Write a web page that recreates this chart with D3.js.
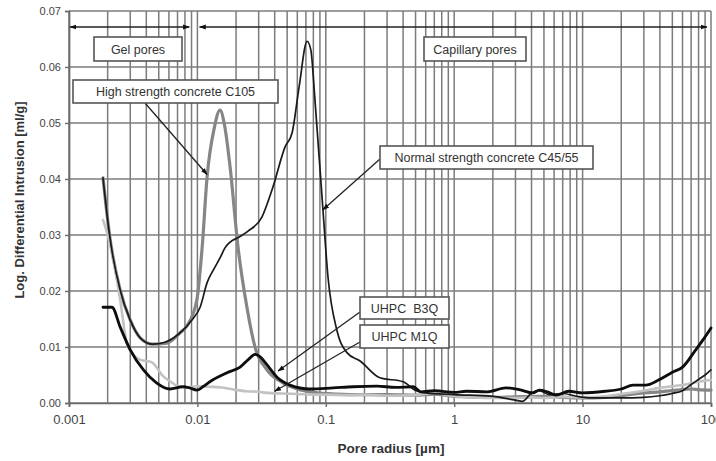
<!DOCTYPE html>
<html>
<head>
<meta charset="utf-8">
<script src="https://cdn.jsdelivr.net/npm/d3@7/dist/d3.min.js"></script>
<style>
  html, body { margin: 0; padding: 0; background: #fff; }
  svg { display: block; font-family: "Liberation Sans", Arial, sans-serif; }
</style>
</head>
<body>
<svg id="chart" width="716" height="461"></svg>
<script>
// Pore size distributions (log. differential intrusion, ml/g) vs pore radius (µm)
const radiusNSC = [0.00184, 0.00208, 0.0025, 0.003, 0.0036, 0.0045, 0.0055, 0.0073, 0.0092, 0.0105, 0.0119, 0.0135, 0.015, 0.0164, 0.0179, 0.021, 0.0248, 0.0318, 0.0388, 0.0481, 0.0546, 0.062, 0.0715, 0.0765, 0.0824, 0.095, 0.104, 0.122, 0.146, 0.185, 0.264, 0.40, 0.495, 0.6, 1.0, 2.0, 3.0, 3.4, 4.0, 4.6, 5.5, 7, 9, 12, 20, 30, 40, 50, 60, 70, 80, 90, 100];
const nsc = [0.0402, 0.0296, 0.0202, 0.0148, 0.0116, 0.0105, 0.0108, 0.0125, 0.015, 0.0171, 0.0215, 0.024, 0.0259, 0.0277, 0.0287, 0.0296, 0.0307, 0.0332, 0.0386, 0.0457, 0.0482, 0.0565, 0.0646, 0.063, 0.054, 0.0345, 0.0225, 0.013, 0.009, 0.0075, 0.0045, 0.0038, 0.0023, 0.0018, 0.0015, 0.0012, 0.0005, 0.0003, 0.0018, 0.0022, 0.0015, 0.0017, 0.0012, 0.0009, 0.0009, 0.001, 0.0013, 0.0017, 0.0022, 0.0033, 0.0042, 0.005, 0.0059];

const radiusHSC = [0.00184, 0.00208, 0.0025, 0.003, 0.0036, 0.0045, 0.0058, 0.0073, 0.0083, 0.0099, 0.0109, 0.0119, 0.0135, 0.015, 0.0163, 0.018, 0.0207, 0.0243, 0.0281, 0.0349, 0.0464, 0.06, 0.08, 0.12, 0.2, 0.3, 0.5, 0.7, 1, 2, 3, 5, 7, 10, 15, 20, 30, 40, 50, 60, 70, 80, 100];
const hsc = [0.0402, 0.0296, 0.0202, 0.0148, 0.0116, 0.0105, 0.0107, 0.0125, 0.0138, 0.0184, 0.0279, 0.0404, 0.049, 0.0523, 0.0495, 0.042, 0.0279, 0.0171, 0.01, 0.0059, 0.0036, 0.0025, 0.0019, 0.0016, 0.0015, 0.0015, 0.0014, 0.0016, 0.0012, 0.001, 0.0011, 0.0012, 0.001, 0.0009, 0.001, 0.0013, 0.0018, 0.002, 0.0022, 0.0024, 0.0025, 0.0024, 0.0023];

const radiusM1Q = [0.00184, 0.002, 0.0022, 0.0025, 0.00283, 0.0032, 0.0036, 0.0044, 0.0054, 0.0062, 0.0069, 0.008, 0.0099, 0.012, 0.015, 0.019, 0.024, 0.03, 0.035, 0.045, 0.06, 0.08, 0.1, 0.15, 0.2, 0.3, 0.5, 0.7, 1, 1.5, 2, 3, 4, 5, 7, 10, 15, 20, 30, 40, 50, 60, 70, 80, 90, 100];
const m1q = [0.0327, 0.030, 0.026, 0.0185, 0.0105, 0.0085, 0.0077, 0.0073, 0.0048, 0.0038, 0.0031, 0.0028, 0.003, 0.0029, 0.0028, 0.0024, 0.0021, 0.002, 0.0018, 0.0017, 0.0016, 0.0015, 0.0015, 0.0014, 0.0015, 0.0013, 0.0014, 0.0018, 0.0012, 0.001, 0.0009, 0.0009, 0.001, 0.0009, 0.0011, 0.001, 0.0012, 0.0016, 0.0022, 0.0027, 0.003, 0.0032, 0.0035, 0.0038, 0.004, 0.0041];

const radiusB3Q = [0.00184, 0.00216, 0.0025, 0.003, 0.0038, 0.0048, 0.0061, 0.0077, 0.0087, 0.0099, 0.0112, 0.0125, 0.017, 0.0215, 0.025, 0.0281, 0.031, 0.0349, 0.0417, 0.0526, 0.0753, 0.114, 0.163, 0.25, 0.35, 0.48, 0.55, 0.7, 1.0, 1.24, 1.8, 2.53, 3.2, 4.1, 4.6, 5.3, 6.2, 7.8, 10, 15, 20, 24.7, 31, 39, 50, 60, 76, 88, 100];
const b3q = [0.0171, 0.0171, 0.0136, 0.0095, 0.0059, 0.0036, 0.0025, 0.0029, 0.0027, 0.0023, 0.003, 0.0038, 0.0054, 0.0064, 0.0078, 0.0087, 0.0082, 0.0068, 0.0046, 0.0032, 0.0025, 0.0027, 0.0029, 0.003, 0.0028, 0.0029, 0.002, 0.0022, 0.0019, 0.0021, 0.002, 0.0027, 0.0024, 0.0018, 0.0023, 0.002, 0.0014, 0.0021, 0.0018, 0.0021, 0.0025, 0.0032, 0.0032, 0.0041, 0.0055, 0.0064, 0.0095, 0.0115, 0.0134];

const xTicks = [0.001, 0.01, 0.1, 1, 10, 100];
const xTickLabels = ["0.001", "0.01", "0.1", "1", "10", "100"];
const yTicks = [0, 0.01, 0.02, 0.03, 0.04, 0.05, 0.06, 0.07];
const yTickLabels = ["0.00", "0.01", "0.02", "0.03", "0.04", "0.05", "0.06", "0.07"];

const W = 716, H = 461;
const margin = { top: 11, right: 5, bottom: 58, left: 69 };
const svg = d3.select("#chart");

const x = d3.scaleLog().domain([0.001, 100]).range([margin.left, W - margin.right]);
const y = d3.scaleLinear().domain([0, 0.07]).range([H - margin.bottom, margin.top]);

const gridColor = "#7c7c7c";

// vertical grid: every 1..9 multiple within each decade
const minor = [];
for (let e = -3; e < 2; e++) for (let m = 1; m <= 9; m++) minor.push(m * Math.pow(10, e));
minor.push(100);
svg.append("g").selectAll("line").data(minor).join("line")
  .attr("x1", d => x(d)).attr("x2", d => x(d))
  .attr("y1", y(0.07)).attr("y2", y(0))
  .attr("stroke", gridColor).attr("stroke-width", 1.5);

// horizontal grid
svg.append("g").selectAll("line").data(yTicks).join("line")
  .attr("x1", x(0.001)).attr("x2", x(100))
  .attr("y1", d => y(d)).attr("y2", d => y(d))
  .attr("stroke", gridColor).attr("stroke-width", 1.5);

// axes
const xAxis = d3.axisBottom(x).tickValues(xTicks).tickFormat((d, i) => xTickLabels[i]).tickSize(4).tickPadding(8);
const yAxis = d3.axisLeft(y).tickValues(yTicks).tickFormat((d, i) => yTickLabels[i]).tickSize(4).tickPadding(4);

const gx = svg.append("g").attr("transform", `translate(0,${y(0)})`).call(xAxis);
const gy = svg.append("g").attr("transform", `translate(${x(0.001)},0)`).call(yAxis);
[gx, gy].forEach(g => {
  g.select(".domain").attr("stroke", "#6a6a6a").attr("stroke-width", 1.7);
  g.selectAll(".tick line").attr("stroke", "#6a6a6a").attr("stroke-width", 1.4);
  g.selectAll(".tick text").attr("fill", "#444").attr("font-family", "Liberation Sans, Arial, sans-serif");
});
gx.selectAll(".tick text").attr("font-size", 13);
gy.selectAll(".tick text").attr("font-size", 11);

// axis titles
svg.append("text")
  .attr("x", 391).attr("y", 453)
  .attr("text-anchor", "middle").attr("font-size", 13.5).attr("font-weight", "bold").attr("fill", "#333")
  .text("Pore radius [µm]");
svg.append("text")
  .attr("transform", "translate(24,200) rotate(-90)")
  .attr("text-anchor", "middle").attr("font-size", 13).attr("font-weight", "bold").attr("fill", "#333")
  .text("Log. Differential Intrusion [ml/g]");

// curves
const line = d3.line().x(d => x(d[0])).y(d => y(d[1])).curve(d3.curveMonotoneX);
const series = [
  { r: radiusHSC, v: hsc, color: "#868686", width: 3.2 },
  { r: radiusM1Q, v: m1q, color: "#c2c2c2", width: 2.6 },
  { r: radiusNSC, v: nsc, color: "#1a1a1a", width: 1.7 },
  { r: radiusB3Q, v: b3q, color: "#0d0d0d", width: 2.8 }
];
series.forEach(s => {
  svg.append("path")
    .datum(s.r.map((r, i) => [r, s.v[i]]))
    .attr("fill", "none").attr("stroke", s.color).attr("stroke-width", s.width)
    .attr("stroke-linejoin", "round").attr("stroke-linecap", "round")
    .attr("d", line);
});

// arrowheads
const defs = svg.append("defs");
defs.append("marker").attr("id", "head").attr("viewBox", "0 0 10 10")
  .attr("refX", 9).attr("refY", 5).attr("markerWidth", 7).attr("markerHeight", 7)
  .attr("orient", "auto-start-reverse").attr("markerUnits", "userSpaceOnUse")
  .append("path").attr("d", "M0,1.5 L10,5 L0,8.5 Z").attr("fill", "#111");

// pore-range arrows
const rangeY = 27;
const ranges = [[0.001, 0.0093], [0.0102, 100]];
ranges.forEach(([a, b]) => {
  svg.append("line")
    .attr("x1", x(a) + 1).attr("x2", x(b) - 4).attr("y1", rangeY).attr("y2", rangeY)
    .attr("stroke", "#222").attr("stroke-width", 1.5)
    .attr("marker-start", "url(#head)").attr("marker-end", "url(#head)");
});

// labelled boxes with pointer arrows (targets in data units)
const labels = [
  { text: "Gel pores", x0: 94, y0: 37, w: 88, h: 24 },
  { text: "Capillary pores", x0: 424, y0: 37, w: 102, h: 24 },
  { text: "High strength concrete C105", x0: 73, y0: 80, w: 205, h: 23, from: [145, 103], to: [0.0119, 0.0408] },
  { text: "Normal strength concrete C45/55", x0: 380, y0: 146, w: 213, h: 23, from: [380, 159], to: [0.095, 0.0345] },
  { text: "UHPC  B3Q", x0: 360, y0: 297, w: 89, h: 22, from: [360, 312], to: [0.0425, 0.0057] },
  { text: "UHPC M1Q", x0: 360, y0: 325, w: 89, h: 23, from: [360, 342], to: [0.040, 0.0021] }
];
labels.forEach(l => {
  if (l.to) {
    svg.append("line")
      .attr("x1", l.from[0]).attr("y1", l.from[1])
      .attr("x2", x(l.to[0])).attr("y2", y(l.to[1]))
      .attr("stroke", "#222").attr("stroke-width", 1.3)
      .attr("marker-end", "url(#head)");
  }
  svg.append("rect")
    .attr("x", l.x0).attr("y", l.y0).attr("width", l.w).attr("height", l.h)
    .attr("fill", "#fff").attr("stroke", "#555").attr("stroke-width", 1.6);
  svg.append("text")
    .attr("x", l.x0 + l.w / 2).attr("y", l.y0 + l.h / 2 + 4.5)
    .attr("text-anchor", "middle").attr("font-size", 12.5).attr("fill", "#333")
    .attr("xml:space", "preserve").style("white-space", "pre")
    .text(l.text);
});
</script>
</body>
</html>
